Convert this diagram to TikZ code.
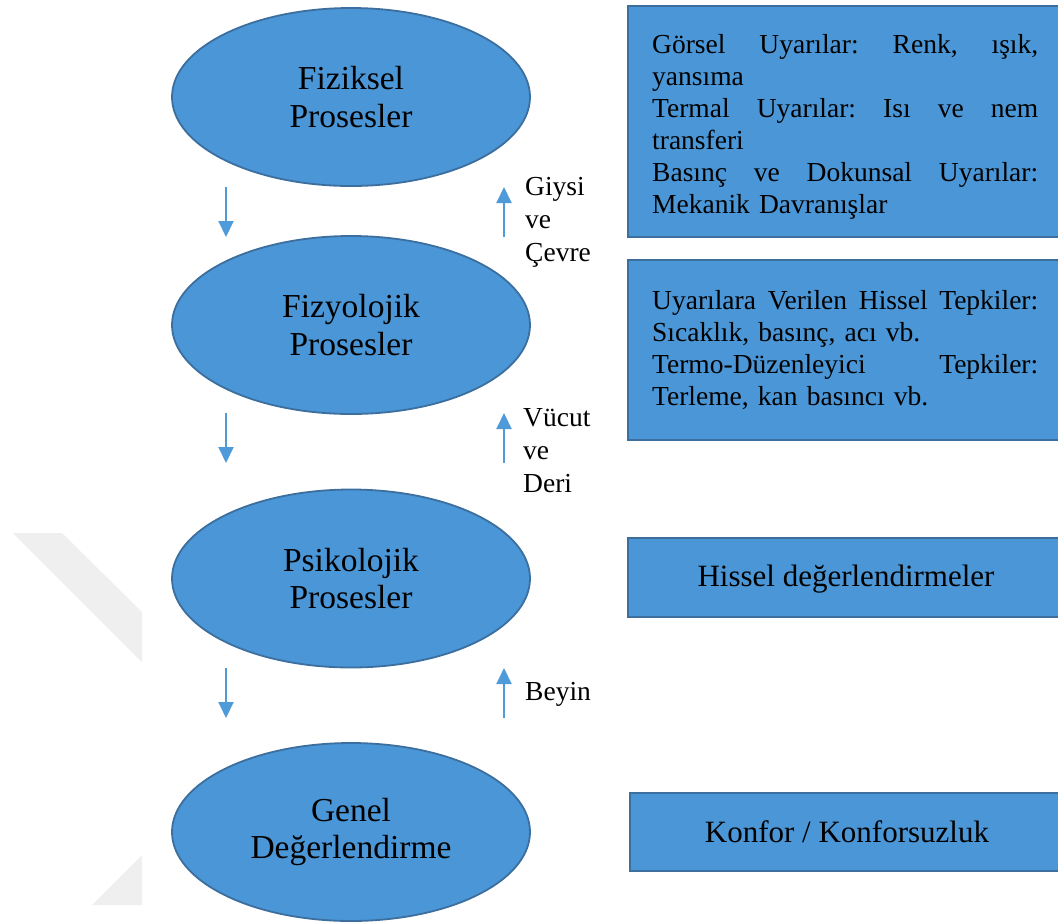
\documentclass[tikz,border=0pt]{standalone}
\usepackage{fontspec}
\setmainfont{Liberation Serif}
\usetikzlibrary{arrows.meta,shapes.geometric}
\definecolor{fillblue}{HTML}{4A96D6}
\definecolor{edgeblue}{HTML}{3C6E9E}
\definecolor{arrowblue}{HTML}{4F9AD8}
\definecolor{wm}{HTML}{EFEFEF}
\newcommand{\fullline}[1]{\leavevmode\hbox to 386pt{#1}}
\begin{document}
\begin{tikzpicture}[x=1pt,y=-1pt,
  proc/.style={ellipse, draw=edgeblue, line width=1.8pt, fill=fillblue,
    minimum width=358pt, minimum height=178pt, inner sep=0pt, align=center,
    font=\fontsize{33.5}{37.5}\selectfont},
  infobox/.style={rectangle, draw=edgeblue, line width=2.5pt, fill=fillblue, inner sep=0pt},
  boxtext/.style={inner sep=0pt, align=left, text width=386pt,
    font=\fontsize{27.5}{32}\selectfont},
  centertext/.style={inner sep=0pt, font=\fontsize{31}{36}\selectfont},
  flow/.style={draw=arrowblue, line width=2pt, -{Triangle[width=15pt,length=16pt]}},
  sidelabel/.style={anchor=west, align=left, inner sep=0pt,
    font=\fontsize{27.5}{33}\selectfont}]
\useasboundingbox (0,0) rectangle (1058,922);
% faint watermark
\fill[wm] (13,533) -- (62,533) -- (142,612) -- (142,662) -- cycle;
\fill[wm] (92,905) -- (142,855) -- (142,905) -- cycle;

% process ellipses
\node[proc] (fiz) at (351,97) {Fiziksel\\Prosesler};
\node[proc] (fzy) at (351,325) {Fizyolojik\\Prosesler};
\node[proc] (psi) at (351,578.5) {Psikolojik\\Prosesler};
\node[proc] (gen) at (351,832) {Genel\\Değerlendirme};

% info boxes
\node[infobox, minimum width=436pt, minimum height=231pt] (b1) at (846,121.5) {};
\node[infobox, minimum width=436pt, minimum height=180pt] (b2) at (846,350) {};
\node[infobox, minimum width=436pt, minimum height=79pt] (b3) at (846,577.5) {};
\node[infobox, minimum width=434pt, minimum height=78pt] (b4) at (847,832) {};

\node[boxtext, anchor=west] (t1) at (652,127) {%
\fullline{Görsel\hfill Uyarılar:\hfill Renk,\hfill ışık,}\\
yansıma\\
\fullline{Termal\hfill Uyarılar:\hfill Isı\hfill ve\hfill nem}\\
transferi\\
\fullline{Basınç\hfill ve\hfill Dokunsal\hfill Uyarılar:}\\
Mekanik Davranışlar};
\node[boxtext, anchor=west] (t2) at (652,350) {%
\fullline{Uyarılara\hfill Verilen\hfill Hissel\hfill Tepkiler:}\\
Sıcaklık, basınç, acı vb.\\
\fullline{Termo-Düzenleyici\hfill Tepkiler:}\\
Terleme, kan basıncı vb.};
\node[centertext] (t3) at (846,579) {Hissel değerlendirmeler};
\node[centertext] (t4) at (847,832) {Konfor / Konforsuzluk};

% arrows
\coordinate (d1s) at (226,187); \coordinate (d1e) at (226,237);
\coordinate (u1s) at (504,237); \coordinate (u1e) at (504,187);
\coordinate (d2s) at (226,413); \coordinate (d2e) at (226,463);
\coordinate (u2s) at (504,463); \coordinate (u2e) at (504,413);
\coordinate (d3s) at (226,668); \coordinate (d3e) at (226,718);
\coordinate (u3s) at (504,718); \coordinate (u3e) at (504,668);
\draw[flow] (d1s) -- (d1e);
\draw[flow] (u1s) -- (u1e);
\draw[flow] (d2s) -- (d2e);
\draw[flow] (u2s) -- (u2e);
\draw[flow] (d3s) -- (d3e);
\draw[flow] (u3s) -- (u3e);

% side labels
\node[sidelabel] (l1) at (525,222) {Giysi\\ve\\Çevre};
\node[sidelabel] (l2) at (523,451) {Vücut\\ve\\Deri};
\node[sidelabel] (l3) at (525,694) {Beyin};
\end{tikzpicture}
\end{document}
